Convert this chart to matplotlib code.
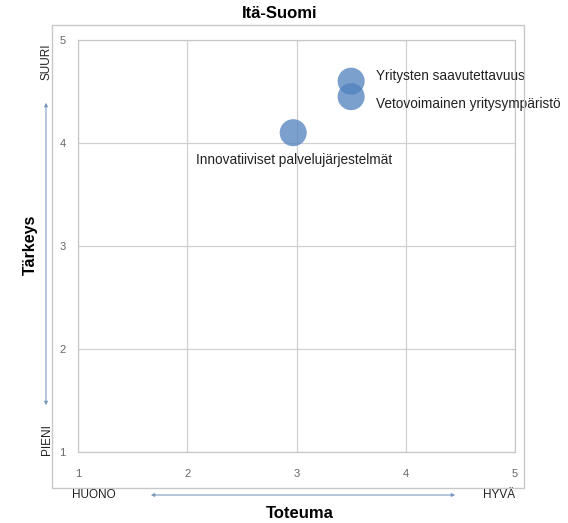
import matplotlib
matplotlib.use("Agg")
import matplotlib.pyplot as plt
from matplotlib.patches import Rectangle, FancyArrowPatch

names = ["Yritysten saavutettavuus", "Vetovoimainen yritysympäristö", "Innovatiiviset palvelujärjestelmät"]
toteuma = [3.5, 3.5, 2.97]
tarkeys = [4.6, 4.45, 4.1]
ticks = [1, 2, 3, 4, 5]

fig = plt.figure(figsize=(5.68, 5.23), dpi=100)
plt.rcParams['font.family'] = ['Liberation Sans', 'DejaVu Sans']
W, H = 568, 523
def fx(px): return px / W
def fy(py): return 1 - py / H

ax = fig.add_axes([fx(78), fy(452), fx(515) - fx(78), fy(40) - fy(452)])
ax.set_xlim(1, 5)
ax.set_ylim(1, 5)
ax.set_xticks(ticks)
ax.set_yticks(ticks)
ax.grid(True, color='#d0d0d0', linewidth=0.9)
ax.set_axisbelow(True)
for s in ax.spines.values():
    s.set_color('#c8c8c8')
    s.set_linewidth(0.9)
ax.tick_params(length=0, labelsize=8, labelcolor='#666666')
ax.tick_params(axis='x', pad=12)
ax.tick_params(axis='y', pad=9)

ax.scatter(toteuma, tarkeys, s=380, color='#4f81bd', alpha=0.75, edgecolors='none', zorder=3)
lab_kw = dict(textcoords='offset points', va='center', ha='left', fontsize=9.8, color='#222222')
ax.annotate(names[0], (toteuma[0], tarkeys[0]), xytext=(18, 4), **lab_kw)
ax.annotate(names[1], (toteuma[1], tarkeys[1]), xytext=(18, -5), **lab_kw)
ax.annotate(names[2], (toteuma[2], tarkeys[2]), xytext=(-70, -20), **lab_kw)

# outer frame
fig.patches.append(Rectangle((fx(52), fy(488)), fx(524) - fx(52), fy(25) - fy(488),
                             transform=fig.transFigure, fill=False, edgecolor='#c8c8c8', linewidth=1.0))

fig.text(fx(280), fy(14), "Itä-Suomi", ha='center', va='center', fontsize=12, fontweight='bold')
fig.text(fx(30), fy(245), "Tärkeys", ha='center', va='center', rotation=90, fontsize=11.5, fontweight='bold')
fig.text(fx(47), fy(62), "SUURI", ha='center', va='center', rotation=90, fontsize=8.5, color='#222222')
fig.text(fx(47), fy(440), "PIENI", ha='center', va='center', rotation=90, fontsize=8.5, color='#222222')
fig.text(fx(94), fy(495), "HUONO", ha='center', va='center', fontsize=8.5, color='#222222')
fig.text(fx(499), fy(495), "HYVÄ", ha='center', va='center', fontsize=8.5, color='#222222')
fig.text(fx(300), fy(514), "Toteuma", ha='center', va='center', fontsize=12, fontweight='bold')

arrow_kw = dict(transform=fig.transFigure, arrowstyle='<|-|>', mutation_scale=5,
                color='#7a9cc0', linewidth=0.8)
fig.patches.append(FancyArrowPatch((fx(46), fy(100)), (fx(46), fy(408)), **arrow_kw))
fig.patches.append(FancyArrowPatch((fx(148), fy(495)), (fx(458), fy(495)), **arrow_kw))

fig.savefig("out.png", dpi=100)
